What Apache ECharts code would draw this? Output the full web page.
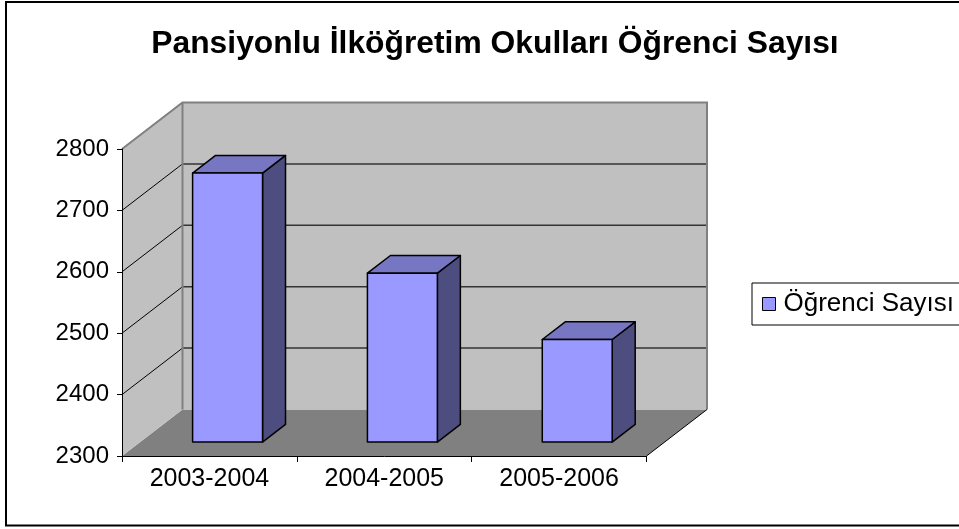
<!DOCTYPE html>
<html>
<head>
<meta charset="utf-8">
<script src="https://cdn.jsdelivr.net/npm/echarts@6/dist/echarts.min.js"></script>
<style>
html,body{margin:0;padding:0;background:#fff;}
#chart{width:959px;height:529px;}
</style>
</head>
<body>
<div id="chart"></div>
<script>
// ---- data ----
const titleText = 'Pansiyonlu İlköğretim Okulları Öğrenci Sayısı';
const seriesName = 'Öğrenci Sayısı';
const categories = ['2003-2004', '2004-2005', '2005-2006'];
const studentCounts = [2738, 2575, 2467];
const yTicks = [2300, 2400, 2500, 2600, 2700, 2800];

// ---- styling / geometry constants ----
const DX = 60.5, DY = -46.5;       // depth offset of the 3D box
const F0 = 0.30, F1 = 0.68;        // bar depth (front/back fraction)
const FONT = 'Liberation Sans, Arial, sans-serif';
const yMin = yTicks[0], yMax = yTicks[yTicks.length - 1];

const chart = echarts.init(document.getElementById('chart'), null, {renderer: 'canvas'});

function frameItem(params, api) {
  const cs = params.coordSys;
  const x0 = cs.x, x1 = cs.x + cs.width;
  const yb = api.coord([0, yMin])[1];
  const yt = api.coord([0, yMax])[1];
  const ch = [];
  ch.push({type: 'polygon', shape: {points: [[x0, yb], [x1, yb], [x1 + DX, yb + DY], [x0 + DX, yb + DY]]}, style: {fill: '#808080'}});
  ch.push({type: 'polygon', shape: {points: [[x0 + DX, yt + DY], [x1 + DX, yt + DY], [x1 + DX, yb + DY], [x0 + DX, yb + DY]]}, style: {fill: '#C0C0C0'}});
  ch.push({type: 'polygon', shape: {points: [[x0, yt], [x0 + DX, yt + DY], [x0 + DX, yb + DY], [x0, yb]]}, style: {fill: '#C0C0C0'}});
  yTicks.forEach(function (v) {
    if (v === yMin || v === yMax) return;
    const y = api.coord([0, v])[1];
    ch.push({type: 'line', shape: {x1: x0 + DX, y1: y + DY, x2: x1 + DX, y2: y + DY}, style: {stroke: '#333', lineWidth: 1.5}});
    ch.push({type: 'line', shape: {x1: x0, y1: y, x2: x0 + DX, y2: y + DY}, style: {stroke: '#000', lineWidth: 1}});
  });
  ch.push({type: 'polyline', shape: {points: [[x0, yt], [x0 + DX, yt + DY], [x1 + DX, yt + DY], [x1 + DX, yb + DY]]}, style: {stroke: '#808080', lineWidth: 2, fill: null}});
  ch.push({type: 'line', shape: {x1: x0 + DX, y1: yt + DY, x2: x0 + DX, y2: yb + DY}, style: {stroke: '#808080', lineWidth: 2}});
  ch.push({type: 'line', shape: {x1: x1, y1: yb, x2: x1 + DX, y2: yb + DY}, style: {stroke: '#000', lineWidth: 1}});
  return {type: 'group', children: ch};
}

function barItem(params, api) {
  const idx = api.value(0);
  const val = api.value(1);
  const c = api.coord([idx, val]);
  const b = api.coord([idx, yMin]);
  const w = api.size([1, 0])[0] * 0.4;
  const L = c[0] - w / 2, R = c[0] + w / 2;
  const top0 = c[1] + F0 * DY, top1 = c[1] + F1 * DY;
  const bot0 = b[1] + F0 * DY, bot1 = b[1] + F1 * DY;
  const lx0 = L + F0 * DX, rx0 = R + F0 * DX, lx1 = L + F1 * DX, rx1 = R + F1 * DX;
  const stroke = {stroke: '#000', lineWidth: 1.5, lineJoin: 'round'};
  return {type: 'group', children: [
    {type: 'polygon', shape: {points: [[rx0, top0], [rx1, top1], [rx1, bot1], [rx0, bot0]]}, style: Object.assign({fill: '#4D4D80'}, stroke)},
    {type: 'polygon', shape: {points: [[lx0, top0], [rx0, top0], [rx1, top1], [lx1, top1]]}, style: Object.assign({fill: '#7676C2'}, stroke)},
    {type: 'polygon', shape: {points: [[lx0, top0], [rx0, top0], [rx0, bot0], [lx0, bot0]]}, style: Object.assign({fill: '#9999FF'}, stroke)}
  ]};
}

const option = {
  animation: false,
  backgroundColor: '#fff',
  title: {
    text: titleText, left: 490, top: 23, textAlign: 'center',
    textStyle: {fontFamily: FONT, fontSize: 31.8, fontWeight: 'bold', color: '#000'}
  },
  legend: {
    data: [seriesName], left: 752, top: 283, orient: 'vertical',
    padding: [6, 20, 6, 10], backgroundColor: '#fff', borderColor: '#000', borderWidth: 1,
    itemWidth: 13, itemHeight: 13, icon: 'rect',
    itemStyle: {borderColor: '#000', borderWidth: 1},
    textStyle: {fontFamily: FONT, fontSize: 26, color: '#000', lineHeight: 30, padding: [0, 0, 0, 3]}
  },
  grid: {left: 122, top: 149, width: 524.5, height: 307},
  xAxis: {
    type: 'category', data: categories, boundaryGap: true, z: 5,
    axisLine: {lineStyle: {color: '#000', width: 1}},
    axisTick: {show: true, alignWithLabel: false, length: 6, lineStyle: {color: '#000'}},
    axisLabel: {fontFamily: FONT, fontSize: 25, color: '#000', margin: 11},
    splitLine: {show: false}
  },
  yAxis: {
    type: 'value', min: yMin, max: yMax, interval: 100, z: 5,
    axisLine: {show: true, lineStyle: {color: '#000', width: 1}},
    axisTick: {show: true, length: 5, lineStyle: {color: '#000'}},
    axisLabel: {fontFamily: FONT, fontSize: 24, color: '#000', margin: 13,
      formatter: function (v) { return String(v); }},
    splitLine: {show: false}
  },
  graphic: [{
    type: 'rect', shape: {x: 6, y: 2, width: 1000, height: 523.5},
    style: {fill: null, stroke: '#000', lineWidth: 2}, z: 100, silent: true
  }],
  series: [
    {type: 'custom', name: 'frame', renderItem: frameItem, data: [[0, yMin]], z: 1, silent: true, clip: false},
    {type: 'custom', name: seriesName, renderItem: barItem, itemStyle: {color: '#9999FF'},
     data: studentCounts.map(function (v, i) { return [i, v]; }), encode: {x: 0, y: 1}, z: 2, clip: false}
  ]
};
chart.setOption(option);
</script>
</body>
</html>
